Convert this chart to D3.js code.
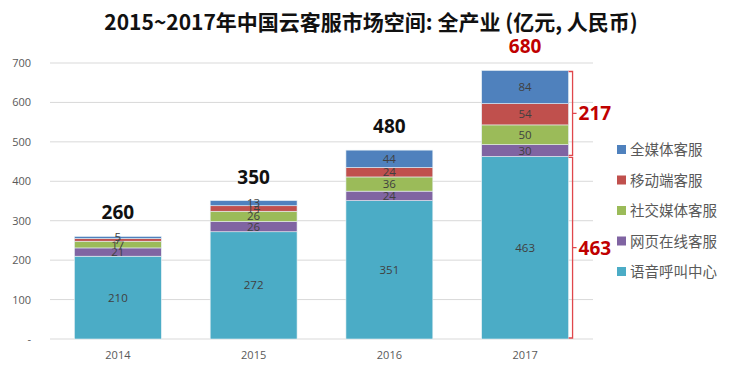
<!DOCTYPE html>
<html>
<head>
<meta charset="utf-8">
<script src="https://cdn.jsdelivr.net/npm/d3@7"></script>
<style>
  body { margin: 0; background: #fff; }
  svg { display: block; font-family: "Noto Sans CJK SC", "Open Sans", sans-serif; }
</style>
</head>
<body>
<svg id="chart" width="742" height="373"></svg>
<script>
const years = ["2014", "2015", "2016", "2017"];
// bottom to top
const seriesNames = ["语音呼叫中心", "网页在线客服", "社交媒体客服", "移动端客服", "全媒体客服"];
const voice  = [210, 272, 351, 463];
const web    = [21, 26, 24, 30];
const social = [17, 26, 36, 50];
const mobile = [7, 14, 24, 54];
const omni   = [5, 13, 44, 84];
const totals = ["260", "350", "480", "680"];
const yTicks = [0, 100, 200, 300, 400, 500, 600, 700];
const bracketVals = [463, 217];

const colors = ["#4bacc6", "#8064a2", "#9bbb59", "#c0504d", "#4f81bd"];
const seriesVals = [voice, web, social, mobile, omni];

const rows = years.map((y, i) => {
  const r = { year: y };
  seriesNames.forEach((s, k) => r[s] = seriesVals[k][i]);
  return r;
});

const svg = d3.select("#chart");
const m = { left: 50, right: 593, top: 63, bottom: 339 };

const x = d3.scaleBand().domain(years).range([m.left, m.right]).paddingInner(0.36).paddingOuter(0.18);
const y = d3.scaleLinear().domain([0, 700]).range([m.bottom, m.top]);

// title
svg.append("text")
  .attr("x", 371).attr("y", 30)
  .attr("text-anchor", "middle")
  .attr("font-size", 21).attr("font-weight", "bold").attr("fill", "#111")
  .text("2015~2017年中国云客服市场空间: 全产业 (亿元, 人民币)");

// grid
svg.append("g").selectAll("line").data(yTicks).join("line")
  .attr("x1", m.left).attr("x2", m.right)
  .attr("y1", d => y(d)).attr("y2", d => y(d))
  .attr("stroke", "#d9d9d9").attr("stroke-width", 1);

// y axis labels
const yAxis = d3.axisLeft(y).tickValues(yTicks).tickSize(0).tickPadding(0)
  .tickFormat(d => d === 0 ? "-" : d);
const ya = svg.append("g").attr("transform", `translate(31,0)`).call(yAxis);
ya.select(".domain").remove();
ya.selectAll("text").attr("font-size", 11).attr("fill", "#595959").attr("font-family", "Open Sans, sans-serif");

// x axis labels
const xAxis = d3.axisBottom(x).tickSize(0).tickPadding(12);
const xa = svg.append("g").attr("transform", `translate(0,${m.bottom})`).call(xAxis);
xa.select(".domain").remove();
xa.selectAll("text").attr("font-size", 11).attr("fill", "#595959").attr("font-family", "Open Sans, sans-serif");

// stacks
const stack = d3.stack().keys(seriesNames)(rows);
const layers = svg.append("g").selectAll("g").data(stack).join("g")
  .attr("fill", (d, i) => colors[i]);
layers.selectAll("rect").data(d => d).join("rect")
  .attr("x", d => x(d.data.year))
  .attr("width", x.bandwidth())
  .attr("y", d => y(d[1]))
  .attr("height", d => y(d[0]) - y(d[1]))
  .attr("stroke", "#e8f1f5").attr("stroke-width", 0.6);

layers.selectAll("text").data(d => d).join("text")
  .attr("x", d => x(d.data.year) + x.bandwidth() / 2)
  .attr("y", d => (y(d[0]) + y(d[1])) / 2 + 4)
  .attr("text-anchor", "middle")
  .attr("font-size", 11.5).attr("fill", "#404040")
  .attr("font-family", "Open Sans, sans-serif")
  .text(d => d[1] - d[0]);

// totals
const last = stack[stack.length - 1];
svg.append("g").selectAll("text").data(last).join("text")
  .attr("x", d => x(d.data.year) + x.bandwidth() / 2)
  .attr("y", d => y(d[1]) - 17)
  .attr("text-anchor", "middle")
  .attr("font-size", 19).attr("font-weight", "bold")
  .attr("font-family", "Open Sans, sans-serif")
  .attr("fill", (d, i) => i === years.length - 1 ? "#c00000" : "#111")
  .text((d, i) => totals[i]);

// brackets on the last bar
const lastYear = years[years.length - 1];
const bx = x(lastYear) + x.bandwidth() + 4;
const lastTop = last[last.length - 1][1];
const split = bracketVals[0];
const spans = [[0, split, bracketVals[0]], [split, lastTop, bracketVals[1]]];
const bg = svg.append("g");
spans.forEach(([a, b, v]) => {
  const y0 = y(a) - 1, y1 = y(b) + 1, ym = (y0 + y1) / 2;
  bg.append("path")
    .attr("d", `M${bx - 4},${y1}H${bx}V${ym}h4M${bx},${ym}V${y0}H${bx - 4}`)
    .attr("fill", "none").attr("stroke", "#e0474c").attr("stroke-width", 1.3);
  bg.append("text")
    .attr("x", bx + 6).attr("y", ym + 7)
    .attr("font-size", 19).attr("font-weight", "bold")
    .attr("font-family", "Open Sans, sans-serif")
    .attr("fill", "#c00000").text(v);
});

// legend (top to bottom = reversed stack order)
const legendItems = seriesNames.map((s, i) => ({ s, c: colors[i] })).reverse();
const lg = svg.append("g").selectAll("g").data(legendItems).join("g")
  .attr("transform", (d, i) => `translate(617,${150 + i * 30.5})`);
lg.append("rect").attr("x", 0).attr("y", -5).attr("width", 9).attr("height", 9).attr("fill", d => d.c);
lg.append("text").attr("x", 13).attr("y", 5)
  .attr("font-size", 14.5).attr("fill", "#595959").text(d => d.s);
</script>
</body>
</html>
